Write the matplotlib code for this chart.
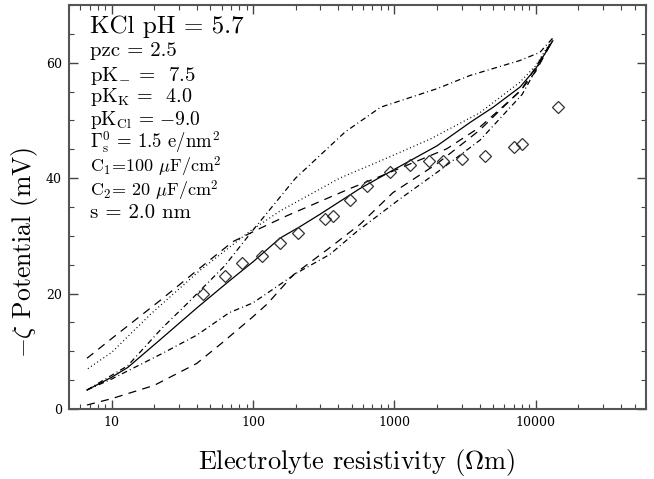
import matplotlib
matplotlib.use("Agg")
import matplotlib.pyplot as plt
from matplotlib.ticker import FixedLocator, FixedFormatter, LogLocator, MultipleLocator, NullFormatter

plt.rcParams['font.family'] = ['cmr10', 'DejaVu Serif']
plt.rcParams['mathtext.fontset'] = 'cm'
plt.rcParams['axes.formatter.use_mathtext'] = True

# ---- data ----
meas_x = [44.4, 63.4, 84, 116, 155, 208, 323, 368, 485, 640, 931, 1290, 1757, 2208, 3008, 4375, 7015, 7990, 14360]
meas_y = [20.0, 23.0, 25.3, 26.6, 28.8, 30.5, 32.9, 33.4, 36.3, 38.6, 41.1, 42.2, 42.9, 43.0, 43.3, 43.9, 45.4, 46.0, 52.4]

solid_x = [6.7, 10, 13, 23, 40, 68, 100, 155, 215, 300, 570, 930, 2000, 3450, 5000, 7750, 10000, 13200]
solid_y = [3.3, 5.5, 7.2, 12.4, 17.5, 22.2, 25.5, 29.6, 31.6, 33.8, 38.2, 41.1, 45.6, 49.7, 52.3, 55.8, 59.0, 63.8]

dotted_x = [6.8, 10, 19, 42, 95, 155, 410, 850, 1800, 4000, 7700, 10000, 13200]
dotted_y = [7.0, 9.8, 16.5, 24.0, 30.8, 34.3, 40.0, 43.3, 46.8, 51.3, 56.6, 59.5, 64.2]

dashed_top_x = [6.7, 10, 22, 45, 72, 112, 174, 485, 790, 2350, 4000, 7700, 10000, 13200]
dashed_top_y = [8.8, 12.2, 18.8, 25.0, 29.0, 31.3, 33.5, 38.2, 40.3, 45.1, 48.8, 55.0, 58.5, 64.0]

dashed_bot_x = [6.7, 10, 20, 40, 60, 100, 126, 192, 351, 571, 977, 2000, 4000, 8000, 13200]
dashed_bot_y = [0.7, 1.8, 4.1, 7.9, 11.4, 16.0, 18.2, 23.2, 28.0, 32.0, 37.5, 42.5, 48.3, 55.5, 64.0]

dashdot_low_x = [6.7, 10, 22.7, 40, 68, 100, 205, 350, 545, 1080, 2000, 4036, 8000, 13200]
dashdot_low_y = [3.3, 5.2, 9.6, 12.8, 16.7, 18.4, 23.6, 26.8, 30.8, 36.3, 41.0, 46.6, 54.5, 64.0]

dashdot_up_x = [6.7, 13, 22.7, 34, 63, 100, 200, 448, 800, 2000, 3430, 7745, 10700, 13200]
dashdot_up_y = [3.3, 7.5, 14.0, 18.2, 24.8, 31.0, 40.0, 48.0, 52.3, 55.5, 57.8, 60.4, 61.8, 64.3]

xtick_vals = [10, 100, 1000, 10000]
xtick_labels = ["10", "100", "1000", "10000"]
ytick_vals = [0, 20, 40, 60]
ytick_labels = ["0", "20", "40", "60"]

info_lines = [
    ("KCl pH = 5.7", 18),
    ("pzc = 2.5", 15),
    (r"pK$_{-}$ =  7.5", 15),
    (r"pK$_{\rm K}$ =  4.0", 14.5),
    (r"pK$_{\rm Cl}$ = $-$9.0", 14),
    (r"$\Gamma_{\rm s}^{0}$ = 1.5 e/nm$^2$", 13.5),
    (r"C$_1$=100 $\mu$F/cm$^2$", 13),
    (r"C$_2$= 20 $\mu$F/cm$^2$", 13),
    ("s = 2.0 nm", 15),
]
info_baselines = [0.930, 0.875, 0.812, 0.759, 0.703, 0.645, 0.585, 0.527, 0.474]

fig = plt.figure(figsize=(6.54, 4.79), dpi=100)
ax = fig.add_axes([0.1055, 0.146, 0.882, 0.8435])

lw = 0.9
ax.plot(solid_x, solid_y, color='black', lw=lw, ls='-')
ax.plot(dotted_x, dotted_y, color='black', lw=lw, ls=(0, (0.8, 2.2)))
ax.plot(dashed_top_x, dashed_top_y, color='black', lw=lw, ls=(0, (6.5, 5)))
ax.plot(dashed_bot_x, dashed_bot_y, color='black', lw=lw, ls=(0, (6.5, 5)))
ax.plot(dashdot_low_x, dashdot_low_y, color='black', lw=lw, ls=(0, (4.5, 2.5, 0.8, 2.5)))
ax.plot(dashdot_up_x, dashdot_up_y, color='black', lw=lw, ls=(0, (4.5, 2.5, 0.8, 2.5)))
ax.plot(meas_x, meas_y, ls='none', marker='D', ms=6.6, mfc='none', mec='#333333', mew=0.9)

ax.set_xscale('log')
ax.set_xlim(5, 60000)
ax.set_ylim(0, 70)

ax.xaxis.set_major_locator(FixedLocator(xtick_vals))
ax.xaxis.set_major_formatter(FixedFormatter(xtick_labels))
ax.xaxis.set_minor_locator(LogLocator(base=10, subs=range(2, 10)))
ax.xaxis.set_minor_formatter(NullFormatter())
ax.yaxis.set_major_locator(FixedLocator(ytick_vals))
ax.yaxis.set_major_formatter(FixedFormatter(ytick_labels))
ax.yaxis.set_minor_locator(MultipleLocator(5))

ax.tick_params(which='both', direction='in', top=True, right=True, color='#444444')
ax.tick_params(which='major', length=6.5, width=1.0, labelsize=9, pad=5)
ax.tick_params(which='minor', length=3.5, width=0.8)
for lab in ax.get_xticklabels() + ax.get_yticklabels():
    lab.set_family(['DejaVu Serif'])

for s in ax.spines.values():
    s.set_color('#555555')
    s.set_linewidth(1.5)

ax.set_xlabel(r"Electrolyte resistivity ($\Omega$m)", fontsize=19)
ax.xaxis.set_label_coords(0.499, -0.095)
ax.set_ylabel(r"$-\zeta$ Potential (mV)", fontsize=18.5)
ax.yaxis.set_label_coords(-0.05, 0.389)

for (txt, fs), yb in zip(info_lines, info_baselines):
    ax.text(0.036, yb, txt, transform=ax.transAxes, fontsize=fs, va='baseline', ha='left')

fig.savefig("out.png", dpi=100)
